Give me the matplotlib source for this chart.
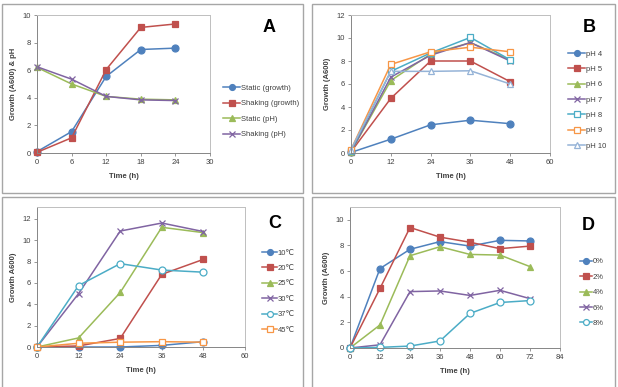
"""
Growth curves: culture mode / pH / temperature / salt (panels A-D)
"""
import numpy as np
import matplotlib

matplotlib.use("Agg")
import matplotlib.pyplot as plt
from matplotlib.patches import Rectangle

plt.rcParams["font.family"] = ["Liberation Sans", "DejaVu Sans"]

W, H = 618, 387

# === data ===
time_a = [0, 6, 12, 18, 24]
static_growth = [0.1, 1.55, 5.55, 7.5, 7.6]
shaking_growth = [0.05, 1.1, 6.05, 9.1, 9.35]
static_ph = [6.2, 5.0, 4.1, 3.9, 3.85]
shaking_ph = [6.25, 5.35, 4.1, 3.85, 3.8]
labels_a = ["Static (growth)", "Shaking (growth)", "Static (pH)", "Shaking (pH)"]

time_b = [0, 12, 24, 36, 48]
ph4 = [0.05, 1.2, 2.45, 2.85, 2.55]
ph5 = [0.1, 4.75, 8.0, 8.0, 6.2]
ph6 = [0.1, 6.3, 8.6, 9.6, 8.1]
ph7 = [0.1, 6.6, 8.5, 9.6, 8.0]
ph8 = [0.2, 7.1, 8.7, 10.05, 8.1]
ph9 = [0.3, 7.7, 8.8, 9.2, 8.8]
ph10 = [0.3, 7.1, 7.1, 7.15, 6.0]
labels_b = ["pH 4", "pH 5", "pH 6", "pH 7", "pH 8", "pH 9", "pH 10"]

time_c = [0, 12, 24, 36, 48]
t10 = [0, 0, 0, 0.15, 0.5]
t20 = [0, 0.1, 0.8, 6.8, 8.2]
t25 = [0, 0.85, 5.1, 11.2, 10.7]
t30 = [0, 5.0, 10.85, 11.6, 10.8]
t37 = [0, 5.75, 7.8, 7.2, 7.0]
t45 = [0, 0.35, 0.45, 0.5, 0.45]
labels_c = ["10℃", "20℃", "25℃", "30℃", "37℃", "45℃"]

time_d = [0, 12, 24, 36, 48, 60, 72]
s0 = [0, 6.2, 7.7, 8.3, 7.95, 8.4, 8.35]
s2 = [0, 4.65, 9.4, 8.65, 8.25, 7.75, 7.95]
s4 = [0, 1.8, 7.2, 7.9, 7.3, 7.25, 6.35]
s6 = [0, 0.25, 4.4, 4.45, 4.1, 4.5, 3.85]
s8 = [0, 0.05, 0.15, 0.55, 2.7, 3.55, 3.7]
labels_d = ["0%", "2%", "4%", "6%", "8%"]

# Excel 2007 style colours / markers
BLUE, RED, GREEN, PURPLE = "#4F81BD", "#C0504D", "#9BBB59", "#8064A2"
CYAN, ORANGE, LBLUE = "#4BACC6", "#F79646", "#95B3D7"
STYLE = {
    "circle": dict(marker="o"),
    "square": dict(marker="s"),
    "tri": dict(marker="^"),
    "x": dict(marker="x"),
    "osquare": dict(marker="s", markerfacecolor="white"),
    "ocircle": dict(marker="o", markerfacecolor="white"),
    "otri": dict(marker="^", markerfacecolor="white"),
}
FS = 5.5
TXT = "#404040"

fig = plt.figure(figsize=(W / 100, H / 100), dpi=100)


def px_axes(x0, y0, x1, y1):
    return fig.add_axes([x0 / W, 1 - y1 / H, (x1 - x0) / W, (y1 - y0) / H])


# panel frames
for (x0, y0, x1, y1) in [(2, 4, 303, 193), (312, 4, 615, 193),
                         (2, 197, 303, 390), (312, 197, 615, 390)]:
    fig.patches.append(Rectangle((x0 / W, 1 - y1 / H), (x1 - x0) / W, (y1 - y0) / H,
                                 transform=fig.transFigure, fill=False,
                                 edgecolor="#a6a6a6", linewidth=1.0))


def style_ax(ax, xlim, xticks, ylim, yticks, ylabel):
    ax.set_xlim(*xlim)
    ax.set_ylim(*ylim)
    ax.set_xticks(xticks)
    ax.set_yticks(yticks)
    ax.tick_params(labelsize=FS, colors="#868686", labelcolor=TXT,
                   length=2, width=0.6, pad=2.5)
    for s in ("top", "right"):
        ax.spines[s].set_color("#bfbfbf")
        ax.spines[s].set_linewidth(0.7)
    for s in ("left", "bottom"):
        ax.spines[s].set_color("#868686")
        ax.spines[s].set_linewidth(0.7)
    ax.set_xlabel("Time (h)", fontsize=FS, fontweight="bold", color=TXT, labelpad=5)
    ax.set_ylabel(ylabel, fontsize=FS, fontweight="bold", color=TXT, labelpad=4)


def draw(ax, x, series, colors, markers, labels, ms):
    for y, c, m, lb in zip(series, colors, markers, labels):
        ax.plot(x, y, color=c, linewidth=1.1, markersize=ms, markeredgecolor=c,
                markeredgewidth=0.9, label=lb, clip_on=False, **STYLE[m])


def add_legend(ax, x, yc, handle_px):
    ax.legend(loc="center left", bbox_to_anchor=(x / W, 1 - yc / H),
              bbox_transform=fig.transFigure, frameon=False, fontsize=FS,
              labelcolor=TXT, borderpad=0, borderaxespad=0,
              handlelength=handle_px / (FS * 100 / 72), handletextpad=0.1,
              labelspacing=1.05, markerscale=0.85)


# === A ===
ax = px_axes(37, 15, 210, 153)
draw(ax, time_a, [static_growth, shaking_growth, static_ph, shaking_ph],
     [BLUE, RED, GREEN, PURPLE], ["circle", "square", "tri", "x"], labels_a, 5)
style_ax(ax, (0, 30), [0, 6, 12, 18, 24, 30], (0, 10), np.arange(0, 11, 2),
         "Growth (A600) & pH")
add_legend(ax, 223, 111.5, 17)
fig.text(269 / W, 1 - 28 / H, "A", fontsize=13, fontweight="bold",
         ha="center", va="center")

# === B ===
ax = px_axes(351, 15, 550, 153)
draw(ax, time_b, [ph4, ph5, ph6, ph7, ph8, ph9, ph10],
     [BLUE, RED, GREEN, PURPLE, CYAN, ORANGE, LBLUE],
     ["circle", "square", "tri", "x", "osquare", "osquare", "otri"], labels_b, 5)
style_ax(ax, (0, 60), [0, 12, 24, 36, 48, 60], (0, 12), np.arange(0, 13, 2),
         "Growth (A600)")
add_legend(ax, 568, 100, 17)
fig.text(589 / W, 1 - 27 / H, "B", fontsize=13, fontweight="bold",
         ha="center", va="center")

# === C ===
ax = px_axes(37, 207, 245, 347)
draw(ax, time_c, [t10, t20, t25, t30, t37, t45],
     [BLUE, RED, GREEN, PURPLE, CYAN, ORANGE],
     ["circle", "square", "tri", "x", "ocircle", "osquare"], labels_c, 5)
style_ax(ax, (0, 60), [0, 12, 24, 36, 48, 60], (0, 13.1), np.arange(0, 13, 2),
         "Growth A600)")
add_legend(ax, 262, 291.5, 15)
fig.text(275 / W, 1 - 223 / H, "C", fontsize=13, fontweight="bold",
         ha="center", va="center")

# === D ===
ax = px_axes(350, 207, 560, 348)
draw(ax, time_d, [s0, s2, s4, s6, s8],
     [BLUE, RED, GREEN, PURPLE, CYAN],
     ["circle", "square", "tri", "x", "ocircle"], labels_d, 5)
style_ax(ax, (0, 84), [0, 12, 24, 36, 48, 60, 72, 84], (0, 11), np.arange(0, 11, 2),
         "Growth (A600)")
add_legend(ax, 580, 292.5, 12)
fig.text(588 / W, 1 - 226 / H, "D", fontsize=13, fontweight="bold",
         ha="center", va="center")

fig.savefig("out.png", dpi=100, facecolor="white")
